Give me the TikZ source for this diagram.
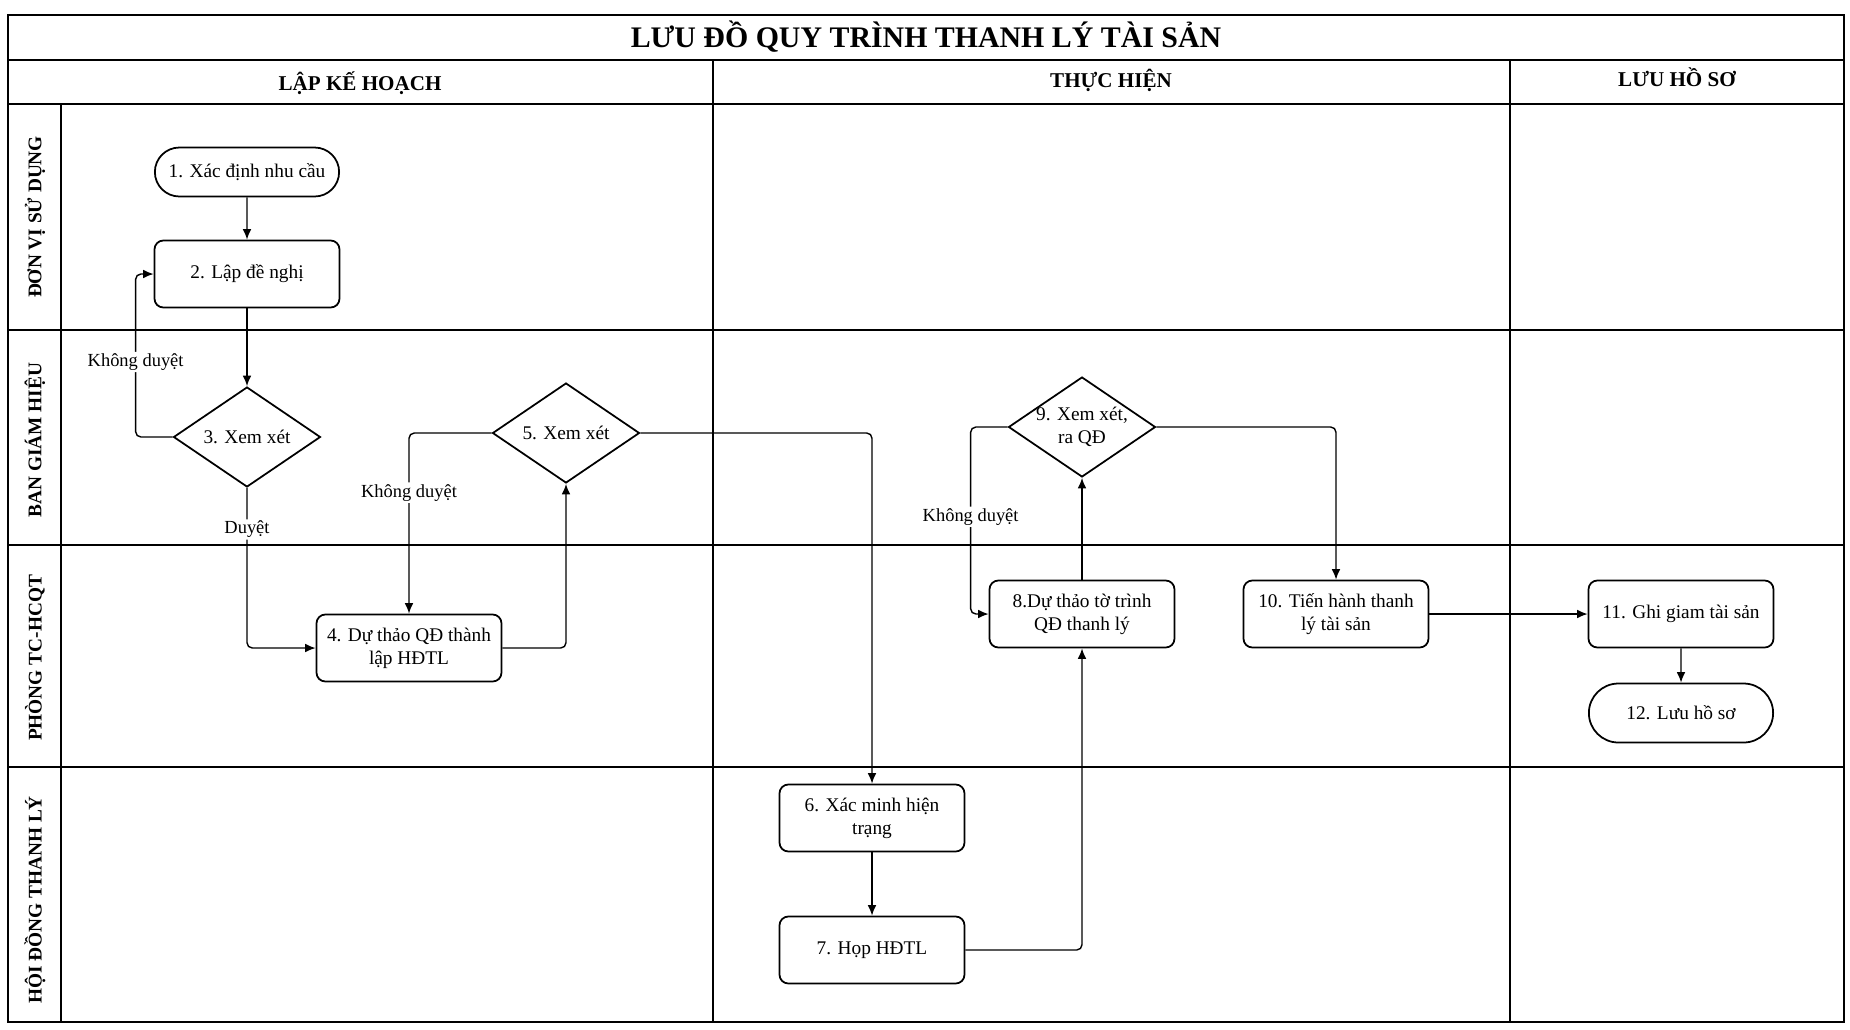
\documentclass[tikz,border=0pt]{standalone}
\usepackage{fontspec}
\setmainfont{Liberation Serif}
\usetikzlibrary{arrows.meta,shapes.geometric,shapes.misc,positioning}

\newcommand{\boxfont}{\fontsize{11}{13}\selectfont}

\begin{document}
\begin{tikzpicture}[x=0.02cm,y=-0.02cm,
  gridline/.style={line width=1.1pt},
  procbox/.style={draw, line width=1pt, rounded corners=5pt, minimum width=3.7cm, minimum height=1.34cm, align=center, font=\boxfont, inner sep=2pt},
  termbox/.style={draw, line width=1pt, rounded rectangle, minimum width=3.92cm, minimum height=0.98cm, font=\boxfont},
  decide/.style={draw, line width=1pt, diamond, aspect=1.5, minimum width=2.94cm, minimum height=2cm, align=center, font=\boxfont, inner sep=1pt},
  flow/.style={-{Latex[length=6pt,width=5pt]}, line width=0.8pt, rounded corners=3pt},
  note/.style={fill=white, inner sep=1pt, font=\fontsize{10.5}{12}\selectfont},
  headtxt/.style={font=\fontsize{12}{14}\selectfont\bfseries},
  lanetxt/.style={rotate=90, font=\fontsize{11}{13}\selectfont\bfseries}]
\useasboundingbox (0,0) rectangle (1850,1029);
% Frame and grid
\draw[gridline] (8,15) rectangle (1844,1022);
\draw[gridline] (8,60) -- (1844,60);
\draw[gridline] (8,104) -- (1844,104);
\draw[gridline] (61,104) -- (61,1022);
\draw[gridline] (713,60) -- (713,1022);
\draw[gridline] (1510,60) -- (1510,1022);
\foreach \yl in {330,545,767} {
  \draw[gridline] (8,\yl) -- (1844,\yl);
}
% Title and column heads
\node[font=\fontsize{17}{20}\selectfont\bfseries] (title) at (926,37) {LƯU ĐỒ QUY TRÌNH THANH LÝ TÀI SẢN};
\node[headtxt] (colplan) at (360,83) {LẬP KẾ HOẠCH};
\node[headtxt] (coldo) at (1111,80) {THỰC HIỆN};
\node[headtxt] (colkeep) at (1677,77) {LƯU HỒ SƠ};
% Lane labels
\foreach \yc/\txt in {217/ĐƠN VỊ SỬ DỤNG,440/BAN GIÁM HIỆU,658/PHÒNG TC-HCQT,900/HỘI ĐỒNG THANH LÝ} {
  \node[lanetxt] (lane\yc) at (35,\yc) {\txt};
}
% Steps
\node[termbox] (n1) at (247,172) {1. Xác định nhu cầu};
\node[procbox] (n2) at (247,274) {2. Lập đề nghị};
\node[decide] (n3) at (247,437) {3. Xem xét};
\node[procbox] (n4) at (409,648) {4. Dự thảo QĐ thành\\lập HĐTL};
\node[decide] (n5) at (566,433) {5. Xem xét};
\node[procbox] (n6) at (872,818) {6. Xác minh hiện\\trạng};
\node[procbox] (n7) at (872,950) {7. Họp HĐTL};
\node[procbox] (n8) at (1082,614) {8.Dự thảo tờ trình\\QĐ thanh lý};
\node[decide, inner sep=-3pt] (n9) at (1082,427) {9. Xem xét,\\ra QĐ};
\node[procbox] (n10) at (1336,614) {10. Tiến hành thanh\\lý tài sản};
\node[procbox] (n11) at (1681,614) {11. Ghi giam tài sản};
\node[termbox, minimum height=1.18cm] (n12) at (1681,713) {12. Lưu hồ sơ};
% Connectors
\draw[flow] (n1) -- (n2);
\draw[flow] (n2) -- (n3);
\draw[flow] (n3.west) -- ++(-37,0) |- node[note, pos=0.23] {Không duyệt} (n2.west);
\draw[flow] (n3.south) |- node[note, pos=0.13] {Duyệt} (n4.west);
\draw[flow] (n4.east) -| (n5.south);
\draw[flow] (n5.west) -| node[note, pos=0.665] {Không duyệt} (n4.north);
\draw[flow] (n5.east) -| (n6.north);
\draw[flow] (n6) -- (n7);
\draw[flow] (n7.east) -| (n8.south);
\draw[flow] (n8) -- (n9);
\draw[flow] (n9.west) -- ++(-37,0) |- node[note, pos=0.24] {Không duyệt} (n8.west);
\draw[flow] (n9.east) -| (n10.north);
\draw[flow] (n10) -- (n11);
\draw[flow] (n11) -- (n12);
\end{tikzpicture}
\end{document}
